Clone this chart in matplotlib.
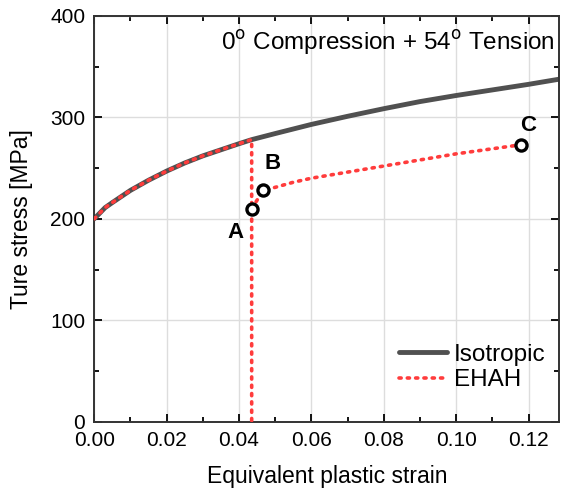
import matplotlib.pyplot as plt
from matplotlib.ticker import MultipleLocator

plt.rcParams['font.family'] = ['Liberation Sans', 'DejaVu Sans']

# isotropic hardening curve
iso_strain = [0.0, 0.003, 0.005, 0.0075, 0.01, 0.015, 0.02, 0.025, 0.03, 0.035,
              0.04, 0.0435, 0.05, 0.06, 0.07, 0.08, 0.09, 0.10, 0.11, 0.12, 0.13]
iso_stress = [200, 211, 216, 222, 228, 238, 247, 255, 262, 268,
              274, 278, 284, 293, 301, 308.5, 315.5, 321.5, 327, 332.5, 338.5]

# EHAH: loading along the isotropic curve, then unloading to zero
ehah_load_strain = [0.0, 0.003, 0.005, 0.0075, 0.01, 0.015, 0.02, 0.025, 0.03,
                    0.035, 0.04, 0.0435, 0.0435]
ehah_load_stress = [200, 211, 216, 222, 228, 238, 247, 255, 262,
                    268, 274, 278, 0]

# EHAH: reloading in tension from A through B to C
ehah_tens_strain = [0.0435, 0.0467, 0.050, 0.055, 0.060, 0.070, 0.080,
                    0.090, 0.100, 0.110, 0.118]
ehah_tens_stress = [210, 228, 231, 236, 240, 246, 252, 258, 264, 269, 273]

pts_label = ['A', 'B', 'C']
pts_strain = [0.0435, 0.0467, 0.118]
pts_stress = [210, 228, 273]
lbl_strain = [0.0389, 0.0494, 0.1199]
lbl_stress = [186, 254, 292]

fig = plt.figure(figsize=(5.61, 4.95), dpi=100)
ax = fig.add_axes([0.168, 0.148, 0.829, 0.820])

red = '#ff3c3c'
ax.plot(iso_strain, iso_stress, color='#505050', lw=3.5, label='Isotropic',
        solid_capstyle='round', solid_joinstyle='round', zorder=2)
ax.plot(ehah_load_strain, ehah_load_stress, color=red, lw=2.6,
        linestyle=(0, (0.6, 1.7)), dash_capstyle='round', label='EHAH', zorder=3)
ax.plot(ehah_tens_strain, ehah_tens_stress, color=red, lw=2.6,
        linestyle=(0, (0.6, 1.7)), dash_capstyle='round', zorder=3)
ax.plot(pts_strain, pts_stress, linestyle='None', marker='o', ms=8,
        mfc='white', mec='black', mew=2.4, zorder=4)
for t, x, y in zip(pts_label, lbl_strain, lbl_stress):
    ax.text(x, y, t, fontsize=16, fontweight='bold', ha='center', va='center')

ax.text(0.991, 0.935, '0$^{\\rm o}$ Compression + 54$^{\\rm o}$ Tension',
        transform=ax.transAxes, ha='right', va='center', fontsize=17.5)

ax.set_xlim(0, 0.1285)
ax.set_ylim(0, 400)
ax.xaxis.set_major_locator(MultipleLocator(0.02))
ax.xaxis.set_minor_locator(MultipleLocator(0.01))
ax.yaxis.set_major_locator(MultipleLocator(100))
ax.yaxis.set_minor_locator(MultipleLocator(50))
ax.xaxis.set_major_formatter(plt.FormatStrFormatter('%.2f'))
ax.tick_params(which='both', direction='in', top=True, right=True,
               labelsize=15, width=1.3)
ax.tick_params(which='major', length=6)
ax.tick_params(which='minor', length=3.5)
ax.tick_params(axis='x', pad=6.5)
ax.tick_params(axis='y', pad=6.5)
ax.grid(True, which='major', color='#dddddd', lw=1)
ax.set_axisbelow(True)
for s in ax.spines.values():
    s.set_linewidth(1.4)
    s.set_color('#333333')

ax.set_xlabel('Equivalent plastic strain', fontsize=16.5)
ax.set_ylabel('Ture stress [MPa]', fontsize=16.5)
ax.xaxis.set_label_coords(0.5, -0.107)
ax.yaxis.set_label_coords(-0.132, 0.5)

ax.legend(loc='center left', bbox_to_anchor=(0.655, 0.1335), frameon=False,
          fontsize=17.5, handlelength=1.97, handletextpad=0.3,
          labelspacing=0.15, borderpad=0, borderaxespad=0)

plt.savefig('out.png', dpi=100)
